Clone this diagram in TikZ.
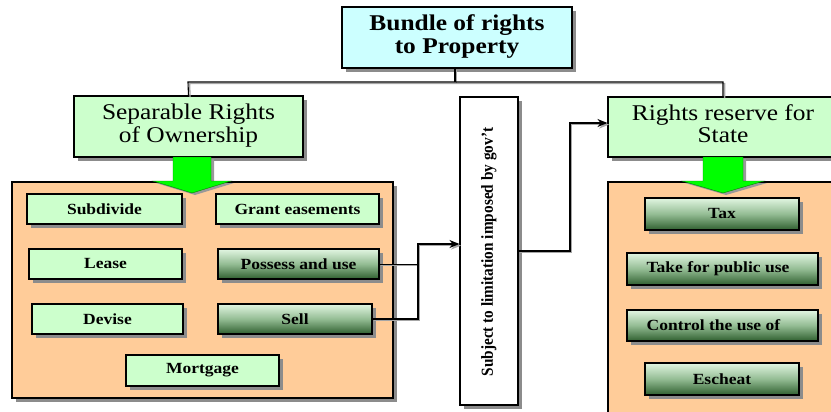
\documentclass[tikz,border=0pt]{standalone}
\usepackage{fontspec}
\setmainfont{Liberation Serif}
\usepackage{graphicx}
\usetikzlibrary{shadows,arrows.meta}

\definecolor{cyanfill}{HTML}{CCFFFF}
\definecolor{mintfill}{HTML}{CCFFCC}
\definecolor{peach}{HTML}{FFCC99}
\definecolor{gtop}{HTML}{E2F6E2}
\definecolor{gmid}{HTML}{93BC93}
\definecolor{gbot}{HTML}{2F5F2F}
\definecolor{brightgreen}{HTML}{00FF00}

% slightly widened lettering
\newcommand{\wide}[1]{\scalebox{1.13}[1]{#1}}
\newcommand{\twolines}[2]{\wide{\begin{tabular}{@{}c@{}}#1\\#2\end{tabular}}}

\tikzset{
  shade box/.style={drop shadow={shadow xshift=4pt,shadow yshift=-4pt,fill=black!45,opacity=1}},
  base/.style={draw=black,line width=1.1pt,shade box,inner sep=0pt,anchor=center},
  headbox/.style={base,font=\fontsize{22.5}{22.5}\selectfont},
  panel/.style={base,fill=peach},
  itembox/.style={base,fill=mintfill,minimum height=30pt,font=\fontsize{15.5}{16}\selectfont\bfseries},
  darkbox/.style={itembox,top color=gtop,bottom color=gbot,middle color=gmid},
  link/.style={line width=1.1pt,black},
  linkshadow/.style={line width=1.3pt,black!35},
  bigarrow/.style={fill=brightgreen,draw=green!50!black,line width=0.4pt,
    drop shadow={shadow xshift=3pt,shadow yshift=-2pt,fill=black!40,opacity=1}},
}

\begin{document}
\begin{tikzpicture}[x=1pt,y=-1pt]
\useasboundingbox (0,0) rectangle (831,412);

% panels
\node[panel,minimum width=381pt,minimum height=216pt] (lpanel) at (202.5,290) {};
\node[panel,minimum width=232pt,minimum height=238pt] (rpanel) at (724,301) {};

% heading boxes
\node[headbox,fill=cyanfill,minimum width=230pt,minimum height=61pt,font=\fontsize{22.5}{22.5}\selectfont\bfseries]
  (title) at (457,37.5) {\twolines{Bundle of rights}{to Property}};
\node[headbox,fill=mintfill,minimum width=229pt,minimum height=61pt]
  (sep) at (188.5,126.5) {\twolines{Separable Rights}{of Ownership}};
\node[headbox,fill=mintfill,minimum width=230pt,minimum height=60pt]
  (state) at (723,127) {\twolines{Rights reserve for}{State}};

% tall middle box
\node[base,fill=white,minimum width=58pt,minimum height=308pt] (subject) at (489,251) {};
\node[rotate=90,font=\fontsize{15.3}{16}\selectfont\bfseries] (subjecttext) at (489,252)
  {\scalebox{1}[1.1]{Subject to limitation imposed by gov't}};

% green arrows into the panels
\draw[bigarrow] (173,157) -- (211,157) -- (211,181) -- (231,181) -- (192,193)
  -- (153,181) -- (173,181) -- cycle;
\draw[bigarrow] (703,157) -- (743,157) -- (743,181) -- (764,181) -- (723,193)
  -- (682,181) -- (703,181) -- cycle;

% left items
\node[itembox,minimum width=155pt] (subdivide) at (104.5,209) {\wide{Subdivide}};
\node[itembox,minimum width=163pt] (grant) at (297.5,209) {\wide{Grant easements}};
\node[itembox,minimum width=153pt] (lease) at (105.5,264) {\wide{Lease}};
\node[darkbox,minimum width=161pt] (possess) at (298.5,264) {\wide{Possess and use}};
\node[itembox,minimum width=151pt] (devise) at (107.5,319) {\wide{Devise}};
\node[darkbox,minimum width=154pt] (sell) at (295,319) {\wide{Sell}};
\node[itembox,minimum width=153pt,minimum height=31pt] (mortgage) at (202.5,370.5) {\wide{Mortgage}};

% right items
\node[darkbox,minimum width=154pt,minimum height=32pt] (tax) at (722,214) {\wide{Tax}};
\node[darkbox,minimum width=191pt,minimum height=32pt] (take) at (722.5,269) {\wide{Take for public use\hspace*{8pt}}};
\node[darkbox,minimum width=191pt,minimum height=31pt] (control) at (722.5,325.5) {\wide{Control the use of\hspace*{16pt}}};
\node[darkbox,minimum width=154pt,minimum height=32pt] (escheat) at (722,379) {\wide{Escheat}};

% connector junctions
\coordinate (h1) at (188,82);
\coordinate (h2) at (723,82);
\coordinate (hm) at (455,82);
\coordinate (t1) at (455,68);
\coordinate (j1) at (418,264);
\coordinate (j2) at (418,319);
\coordinate (j3) at (418,244);
\coordinate (k0) at (570,251);
\coordinate (k1) at (570,123);

% connectors: soft shadow first, then the black line
\begin{scope}[transform canvas={shift={(1.6pt,-1.6pt)}}]
  \draw[linkshadow] (t1) -- (hm);
  \draw[linkshadow] (sep.north) -- (h1) -- (h2) -- (state.north);
  \draw[linkshadow] (possess.east) -- (j1);
  \draw[linkshadow,-{Stealth[length=10pt,width=8pt]}] (sell.east) -- (j2) -- (j3) -- (subject.west |- j3);
  \draw[linkshadow,-{Stealth[length=10pt,width=8pt]}] (subject.east |- k0) -- (k0) -- (k1) -- (state.west |- k1);
\end{scope}
\draw[link] (t1) -- (hm);
\draw[link] (sep.north) -- (h1) -- (h2) -- (state.north);
\draw[link,line width=0.8pt] (possess.east) -- (j1);
\draw[link,-{Stealth[length=10pt,width=8pt]}] (sell.east) -- (j2) -- (j3) -- (subject.west |- j3);
\draw[link,-{Stealth[length=10pt,width=8pt]}] (subject.east |- k0) -- (k0) -- (k1) -- (state.west |- k1);
\end{tikzpicture}
\end{document}
